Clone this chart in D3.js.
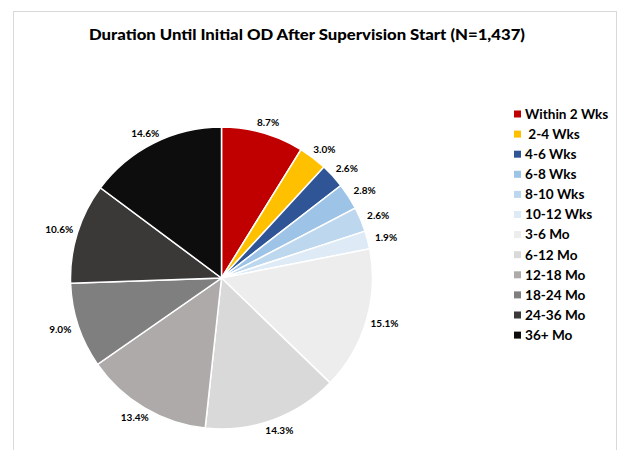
<!DOCTYPE html>
<html>
<head>
<meta charset="utf-8">
<script src="https://cdn.jsdelivr.net/npm/d3@7"></script>
<style>
    body { margin: 0; background: #fff; }
    svg { display: block; font-family: Lato, "Open Sans", sans-serif; }
</style>
</head>
<body>
<svg id="chart" width="621" height="450"></svg>
<script>
const categories = ['Within 2 Wks', ' 2-4 Wks', '4-6 Wks', '6-8 Wks', '8-10 Wks', '10-12 Wks',
        '3-6 Mo', '6-12 Mo', '12-18 Mo', '18-24 Mo', '24-36 Mo', '36+ Mo'],
    values = [8.7, 3.0, 2.6, 2.8, 2.6, 1.9, 15.1, 14.3, 13.4, 9.0, 10.6, 14.6],
    sliceColors = ['#c00000', '#ffc000', '#2f5597', '#9dc3e6', '#bdd7ee', '#deebf7',
        '#ededed', '#d9d9d9', '#aeaaaa', '#7f7f7f', '#3b3838', '#0d0d0d'];

const svg = d3.select('#chart'),
    cx = 221.5,
    cy = 278,
    radius = 151;

svg.append('rect')
    .attr('x', 13.5)
    .attr('y', 11.5)
    .attr('width', 603)
    .attr('height', 460)
    .attr('fill', '#fff')
    .attr('stroke', '#d9d9d9');

svg.append('text')
    .attr('x', 307)
    .attr('y', 39.5)
    .attr('text-anchor', 'middle')
    .style('font-size', '15.5px')
    .style('font-weight', 900)
    .attr('fill', '#000')
    .attr('textLength', 436)
    .attr('lengthAdjust', 'spacingAndGlyphs')
    .text('Duration Until Initial OD After Supervision Start (N=1,437)');

const pie = d3.pie().sort(null).value(d => d)(values),
    arc = d3.arc().innerRadius(0).outerRadius(radius);

const pieG = svg.append('g')
    .attr('transform', `translate(${cx},${cy})`);

pieG.selectAll('path')
    .data(pie)
    .join('path')
    .attr('d', arc)
    .attr('fill', (d, i) => sliceColors[i])
    .attr('stroke', '#fff')
    .attr('stroke-width', 1.5);

// outside-end labels: box touches a point just beyond the rim
pieG.selectAll('text')
    .data(pie)
    .join('text')
    .each(function (d) {
        const a = (d.startAngle + d.endAngle) / 2,
            s = Math.sin(a),
            c = Math.cos(a),
            r = radius + 6,
            w = 26,
            h = 10;
        d3.select(this)
            .attr('x', r * s + s * w / 2)
            .attr('y', -r * c - c * h / 2 + 3.5);
    })
    .attr('text-anchor', 'middle')
    .style('font-size', '10px')
    .style('font-weight', 'bold')
    .attr('fill', '#000')
    .text(d => d.value.toFixed(1) + '%');

const legend = svg.append('g')
    .attr('transform', 'translate(514,114)');

const rows = legend.selectAll('g')
    .data(categories)
    .join('g')
    .attr('transform', (d, i) => `translate(0,${i * 20.1})`);

rows.append('rect')
    .attr('x', 0)
    .attr('y', -3.5)
    .attr('width', 7)
    .attr('height', 7)
    .attr('fill', (d, i) => sliceColors[i]);

rows.append('text')
    .attr('x', 11)
    .attr('y', 4.8)
    .style('font-size', '13.6px')
    .style('font-weight', 'bold')
    .style('white-space', 'pre')
    .attr('fill', '#000')
    .text(d => d);
</script>
</body>
</html>
